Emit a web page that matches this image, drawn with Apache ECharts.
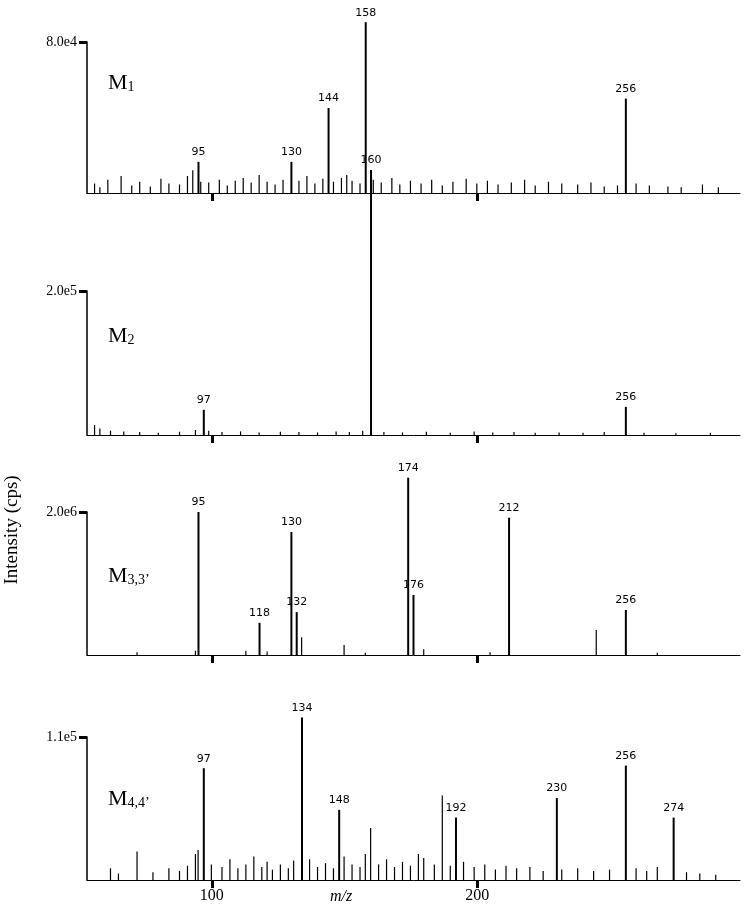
<!DOCTYPE html>
<html><head><meta charset="utf-8">
<script src="https://cdn.jsdelivr.net/npm/echarts@6/dist/echarts.min.js"></script>
<style>html,body{margin:0;background:#fff}#c{width:750px;height:909px}</style>
</head><body><div id="c"></div>
<script>
// spectra: [m/z, intensity]
var peaks1 = [[95,16500],[130,16500],[144,45000],[158,90500],[256,50000]];
var noise1 = [[56,5000],[58,3000],[61,7000],[66,9000],[70,4000],[73,6000],[77,3500],[81,7500],[84,5000],[88,4500],[91,9000],[93,12000],[96,6000],[99,5500],[103,7000],[106,4000],[109,6500],[112,8000],[115,5500],[118,9500],[121,6000],[124,4500],[127,7000],[133,6500],[136,9000],[139,5000],[142,7500],[146,6000],[149,8000],[151,9500],[153,6500],[156,5000],[161,7000],[164,5500],[168,8000],[171,4500],[175,6500],[179,5000],[183,7000],[187,4000],[191,6000],[196,7500],[200,5000],[204,6500],[208,4500],[213,5500],[218,7000],[222,4000],[227,6000],[232,5000],[238,4500],[243,5500],[248,3500],[253,4000],[260,5000],[265,4000],[272,3500],[277,3000],[285,4500],[291,3000]];
var peaks2 = [[97,35000],[160,368000],[256,39000]];
var noise2 = [[56,14000],[58,9000],[62,6000],[67,5000],[73,4000],[80,3000],[88,4500],[94,7000],[99,6000],[104,4000],[111,5000],[118,3500],[126,4500],[133,4000],[140,3500],[147,5000],[152,4000],[157,6000],[165,4000],[172,3500],[181,4500],[190,3000],[199,5000],[206,3500],[214,4000],[222,3000],[231,3500],[240,3000],[248,4000],[263,3000],[275,2500],[288,3000]];
var peaks3 = [[95,2000000],[118,450000],[130,1720000],[132,600000],[174,2480000],[176,840000],[212,1920000],[256,630000]];
var noise3 = [[72,40000],[94,60000],[113,60000],[121,50000],[134,250000],[150,140000],[158,30000],[180,80000],[205,40000],[245,350000],[268,30000]];
var peaks4 = [[97,86000],[134,125000],[148,54000],[192,48000],[230,63000],[256,88000],[274,48000]];
var noise4 = [[62,9000],[65,5000],[72,22000],[78,6000],[84,9000],[88,7000],[91,11000],[94,20000],[95,23000],[100,12000],[104,10000],[107,16000],[110,9000],[113,12000],[116,18000],[119,10000],[121,14000],[123,8000],[126,12000],[129,9000],[131,15000],[137,16000],[140,10000],[143,13000],[146,9000],[150,18000],[153,12000],[156,10000],[158,20000],[160,40000],[163,12000],[166,16000],[169,10000],[172,14000],[175,11000],[178,20000],[180,17000],[184,12000],[187,65000],[190,11000],[195,14000],[199,10000],[203,12000],[207,8000],[211,11000],[215,9000],[220,10000],[225,7000],[232,8000],[238,9000],[244,7000],[250,8000],[260,9000],[264,7000],[268,10000],[279,6000],[284,5000],[290,4000]];
var panelNames = ['M{s|1}', 'M{s|2}', 'M{s|3,3\u2019}', 'M{s|4,4\u2019}'];
var tickVals = [80000, 200000, 2000000, 110000];
var tickLabels = ['8.0e4', '2.0e5', '2.0e6', '1.1e5'];
var peakSets = [peaks1, peaks2, peaks3, peaks4];
var noiseSets = [noise1, noise2, noise3, noise4];

var chart = echarts.init(document.getElementById('c'));
var tops = [42, 291, 512, 737], bottoms = [193, 435, 655, 880];
var grids = [], xAxes = [], yAxes = [], series = [], graphics = [];
var serif = 'Liberation Serif';
for (var i = 0; i < 4; i++) {
  grids.push({left: 87, right: 10, top: tops[i], height: bottoms[i] - tops[i]});
  xAxes.push({
    gridIndex: i, type: 'value', min: 53, max: 299,
    axisLine: {lineStyle: {color: '#000', width: 1}},
    axisTick: {show: true, customValues: [100, 200], length: 8, lineStyle: {color: '#000', width: 3}},
    axisLabel: {show: i == 3, customValues: [100, 200], color: '#000', fontFamily: serif, fontSize: 16},
    splitLine: {show: false}
  });
  yAxes.push({
    gridIndex: i, type: 'value', min: 0, max: tickVals[i], interval: tickVals[i],
    axisLine: {show: true, lineStyle: {color: '#000', width: 1.5}},
    axisTick: {show: true, length: 8, lineStyle: {color: '#000', width: 3},
      customValues: [tickVals[i]]},
    axisLabel: {customValues: [tickVals[i]], formatter: (function (l) { return function () { return l; }; })(tickLabels[i]),
      color: '#000', fontFamily: serif, fontSize: 14, margin: 10},
    splitLine: {show: false}
  });
  series.push({
    type: 'bar', xAxisIndex: i, yAxisIndex: i, data: noiseSets[i], barWidth: 1.2,
    itemStyle: {color: '#000'}, clip: false, silent: true, barGap: '-100%'
  });
  series.push({
    type: 'bar', xAxisIndex: i, yAxisIndex: i, data: peakSets[i], barWidth: 2,
    itemStyle: {color: '#000'}, clip: false, barGap: '-100%',
    label: {show: true, position: 'top', distance: 4, formatter: function (p) { return p.value[0]; },
      color: '#000', fontSize: 11, fontFamily: 'DejaVu Sans'}
  });
  graphics.push({
    type: 'text', left: 108, top: [72, 325, 565, 788][i],
    style: {text: panelNames[i], font: '22px ' + serif, fill: '#000',
      rich: {s: {fontSize: 14, fontFamily: serif, padding: [8, 0, 0, 0]}}}
  });
}
graphics.push({type: 'text', x: 12, y: 530, rotation: Math.PI / 2,
  style: {text: 'Intensity (cps)', font: '19px ' + serif, fill: '#000', textAlign: 'center', textVerticalAlign: 'middle'}});
graphics.push({type: 'text', left: 330, top: 889,
  style: {text: 'm/z', font: 'italic 16px ' + serif, fill: '#000'}});

chart.setOption({
  animation: false,
  grid: grids, xAxis: xAxes, yAxis: yAxes, series: series, graphic: graphics
});
</script></body></html>
